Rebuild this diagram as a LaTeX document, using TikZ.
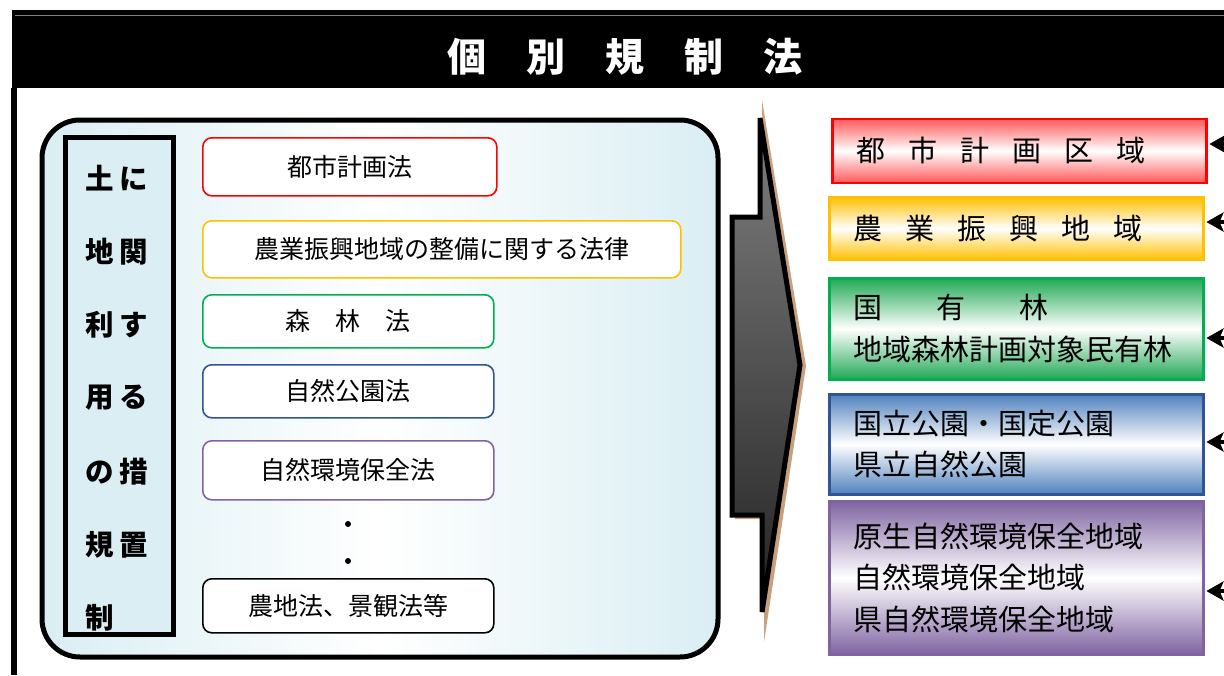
\documentclass[tikz,border=0pt]{standalone}
\usepackage{fontspec}
\newfontfamily\jp{Noto Sans CJK JP}
\usetikzlibrary{arrows.meta}
\definecolor{tanc}{HTML}{C8A07E}
\definecolor{lblue}{HTML}{DAEEF3}
\definecolor{cred}{HTML}{FF0000}
\definecolor{corange}{HTML}{FFC000}
\definecolor{cgreen}{HTML}{00B050}
\definecolor{cblue}{HTML}{2F5597}
\definecolor{fblue}{HTML}{4F81BD}
\definecolor{cpurple}{HTML}{8064A2}
\definecolor{fgreen}{HTML}{20A855}
\definecolor{agray}{HTML}{808080}
\definecolor{adark}{HTML}{222222}
\tikzset{
  lawbox/.style={draw, line width=1.6pt, rounded corners=9pt, fill=white, anchor=north west, inner sep=0pt, font=\jp\fontsize{25}{28}\selectfont},
  areabox/.style={draw, line width=2.5pt, anchor=north west, inner xsep=24pt, inner ysep=0pt, align=left, text width=326pt, minimum width=374pt, font=\jp\fontsize{29}{41.5}\selectfont},
  vtext/.style={font=\jp\bfseries\fontsize{28.5}{30}\selectfont, inner sep=0pt},
  ptr/.style={-{Stealth[length=17pt,width=19pt,inset=4pt]}, line width=4pt},
  dotnode/.style={circle, fill=black, inner sep=0pt, minimum size=6pt}
}
\begin{document}
\begin{tikzpicture}[x=1pt,y=-1pt]
\useasboundingbox (0,0) rectangle (1224,675);
% header
\fill[black] (12,10) rectangle (1224,88);
\draw[gray, line width=1pt] (15,15) -- (1224,15);
\fill[black] (11,88) rectangle (17,675);
\node[font=\jp\bfseries\fontsize{39}{42}\selectfont, text=white] (T) at (625,57) {個\hspace{40pt}別\hspace{40pt}規\hspace{40pt}制\hspace{40pt}法};
% big box
\fill[tanc, rounded corners=38pt] (42.5,121.5) rectangle (719,658);
\node[draw, line width=5pt, rounded corners=38pt, left color=lblue, right color=lblue, middle color=white, anchor=north west, minimum width=676pt, minimum height=537pt, inner sep=0pt] (big) at (39.5,117.5) {};
% vertical box
\fill[tanc] (65,138) rectangle (173.5,635);
\node[draw, line width=5pt, fill=lblue, anchor=north west, minimum width=108pt, minimum height=497pt, inner sep=0pt] (vbox) at (62.5,135) {};
\node[vtext] (v1) at (116.5,178) {土\hspace{6pt}に};
\node[vtext] (v2) at (116.5,252) {地\hspace{6pt}関};
\node[vtext] (v3) at (116.5,325) {利\hspace{6pt}す};
\node[vtext] (v4) at (116.5,398) {用\hspace{6pt}る};
\node[vtext] (v5) at (116.5,472) {の\hspace{6pt}措};
\node[vtext] (v6) at (116.5,545) {規\hspace{6pt}置};
\node[vtext] (v7) at (99.5,618) {制};
% laws
\node[lawbox, draw=cred, minimum width=294pt, minimum height=58pt] (l1) at (202,137) {都市計画法};
\node[lawbox, draw=corange, minimum width=478pt, minimum height=57pt] (l2) at (202,220) {農業振興地域の整備に関する法律};
\node[lawbox, draw=cgreen, minimum width=291pt, minimum height=53pt] (l3) at (202,294) {森　林　法};
\node[lawbox, draw=cblue, minimum width=291pt, minimum height=53pt] (l4) at (202,364) {自然公園法};
\node[lawbox, draw=cpurple, minimum width=291pt, minimum height=59pt] (l5) at (202,440) {自然環境保全法};
\node[dotnode] (d1) at (348,524) {};
\node[dotnode] (d2) at (348,561) {};
\node[lawbox, draw=black, minimum width=291pt, minimum height=54pt] (l6) at (202,578) {農地法、景観法等};
% big arrow
\fill[tanc] (762,100) -- (806,366) -- (764,642) -- (764,519) -- (735,519) -- (735,222) -- (764,222) -- cycle;
\draw[line width=5pt, line join=miter, top color=agray, bottom color=adark] (760,118) -- (800,365) -- (762,612) -- (762,515) -- (732,515) -- (732,217) -- (760,217) -- cycle;
% areas
\node[areabox, draw=cred, top color=red!65, bottom color=red!65, middle color=white, minimum height=64pt] (r1) at (831,117.5) {都\hspace{23pt}市\hspace{23pt}計\hspace{23pt}画\hspace{23pt}区\hspace{23pt}域};
\node[areabox, draw=corange, top color=corange, bottom color=corange, middle color=white, minimum height=63pt] (r2) at (828,195.5) {農\hspace{23pt}業\hspace{23pt}振\hspace{23pt}興\hspace{23pt}地\hspace{23pt}域};
\node[areabox, draw=cgreen, top color=fgreen, bottom color=fgreen, middle color=white, minimum height=101pt] (r3) at (828,277) {国\hspace{54pt}有\hspace{54pt}林\\地域森林計画対象民有林};
\node[areabox, draw=cblue, top color=fblue, bottom color=fblue, middle color=white, minimum height=100pt] (r4) at (828,393) {国立公園・国定公園\\県立自然公園};
\node[areabox, draw=cpurple, top color=cpurple, bottom color=cpurple, middle color=white, minimum height=153pt] (r5) at (828,500) {原生自然環境保全地域\\自然環境保全地域\\県自然環境保全地域};
% small arrows
\coordinate (s1) at (1240,144);
\coordinate (s2) at (1240,222);
\coordinate (s3) at (1240,338);
\coordinate (s4) at (1240,442);
\coordinate (s5) at (1240,591);
\foreach \s/\r in {s1/r1,s2/r2,s3/r3,s4/r4,s5/r5}{
  \draw[ptr, tanc, xshift=3pt, yshift=-4pt] (\s) -- ([xshift=2pt]\r.east |- \s);
  \draw[ptr, black] (\s) -- ([xshift=2pt]\r.east |- \s);
}
\end{tikzpicture}
\end{document}
